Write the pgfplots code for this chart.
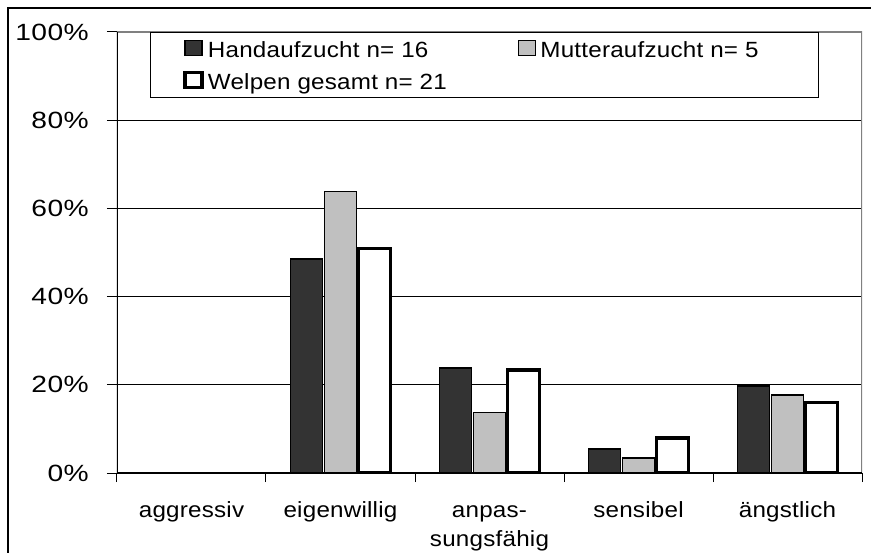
\documentclass[border=0pt]{standalone}
\usepackage{pgfplots}
\pgfplotsset{compat=1.18}
\usepackage{fontspec}
\setmainfont{Liberation Sans}[FakeStretch=1.1, LetterSpace=1]
\newfontfamily\tickfont{Liberation Sans}[FakeStretch=1.2, LetterSpace=2]
\definecolor{darkbar}{HTML}{333333}
\definecolor{lightbar}{HTML}{C0C0C0}
\definecolor{borderg}{HTML}{808080}
\begin{document}
\begin{tikzpicture}
\path[use as bounding box] (0pt,0pt) rectangle (871pt,-553pt);
\draw[line width=1.3pt, black] (8pt,-553pt) -- (8pt,-8pt) -- (871pt,-8pt);
\begin{axis}[
 at={(117pt,-473pt)}, anchor=south west,
 scale only axis, width=745pt, height=441pt,
 xmin=-0.5, xmax=4.5, ymin=0, ymax=100,
 ybar=2pt, bar width=32pt,
 axis line style={draw=none},
 xtick={0,1,2,3,4},
 xticklabels={{\rule{0pt}{16pt}aggressiv},{\rule{0pt}{16pt}eigenwillig},{\rule{0pt}{16pt}anpas-\\[2pt]sungsfähig},{\rule{0pt}{16pt}sensibel},{\rule{0pt}{16pt}ängstlich}},
 minor xtick={-0.5,0.5,1.5,2.5,3.5,4.5},
 major x tick style={draw=none},
 minor x tick style={black, line width=1pt},
 minor tick length=9pt, major tick length=10pt, tick align=outside,
 xtick pos=bottom, ytick pos=left,
 ytick={0,20,...,100}, yticklabels={0\%,20\%,40\%,60\%,80\%,100\%},
 ymajorgrids, grid style={black, line width=0.9pt},
 major y tick style={black, line width=1pt},
 yticklabel style={font=\tickfont\fontsize{23.5}{27}\selectfont, anchor=east, inner sep=0pt, xshift=-18pt},
 xticklabel style={font=\fontsize{22}{27}\selectfont, align=center, anchor=north, inner sep=0pt, yshift=-18pt},
 legend columns=2,
 legend cell align=left,
 legend image code/.code={\draw[#1] (0pt,-6.5pt) rectangle (17pt,8.5pt);},
 legend style={at={(0.0443,1)}, anchor=north west, draw=black, line width=0.8pt, fill=white,
   inner xsep=33pt, inner ysep=3pt, row sep=4.5pt, font=\fontsize{22}{25}\selectfont,
   nodes={inner sep=0pt, text height=22pt, text depth=5.5pt},
   /tikz/every odd column/.style={column sep=4pt},
   /tikz/every even column/.style={column sep=0pt}},
]
\addplot[fill=darkbar, draw=black, line width=1.5pt] coordinates {(1,48.5) (2,23.8) (3,5.4) (4,19.7)};
\addlegendentry{\makebox[310pt][l]{Handaufzucht n= 16}}
\addplot[fill=lightbar, draw=black, line width=1.5pt] coordinates {(1,63.8) (2,13.7) (3,3.4) (4,17.7)};
\addlegendentry{\makebox[245pt][l]{Mutteraufzucht n= 5}}
\addplot[fill=white, draw=black, line width=3.5pt] coordinates {(1,50.9) (2,23.4) (3,7.9) (4,16)};
\addlegendentry{Welpen gesamt n= 21}
\draw[borderg, line width=2pt] (rel axis cs:0,1) -- (rel axis cs:1,1) -- (rel axis cs:1,0);
\draw[black, line width=1.5pt] (rel axis cs:0,1) -- (rel axis cs:0,0) -- (rel axis cs:1,0);
\end{axis}
\end{tikzpicture}
\end{document}
